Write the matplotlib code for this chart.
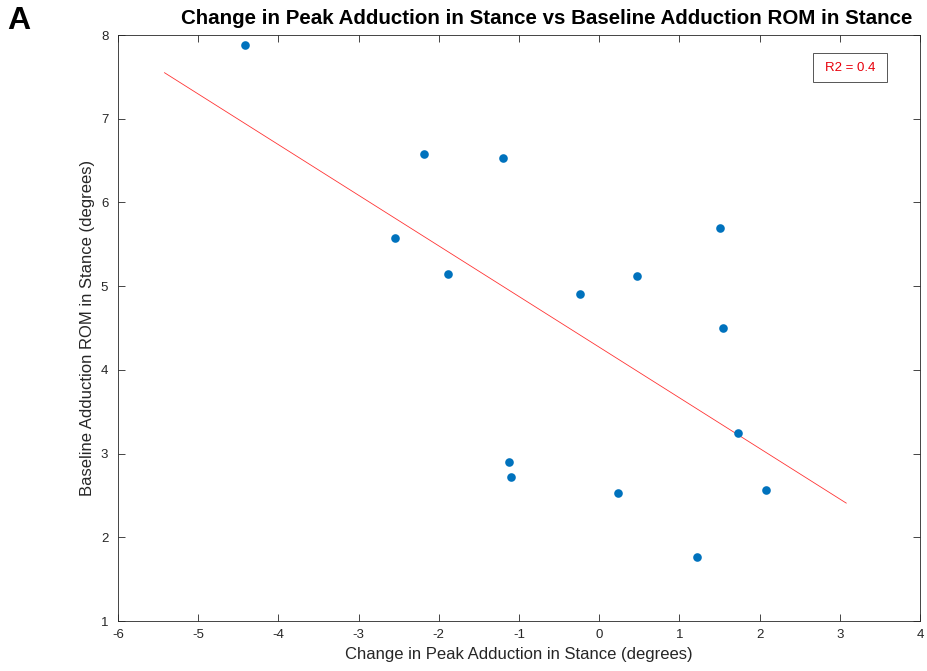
import numpy as np
import matplotlib
matplotlib.use("Agg")
import matplotlib.pyplot as plt
from matplotlib.patches import Rectangle

plt.rcParams['font.family'] = ['Liberation Sans', 'DejaVu Sans']
plt.rcParams['axes.unicode_minus'] = False

# Change in peak adduction (x) vs baseline adduction ROM (y), degrees
change_peak_add = [-4.42, -2.19, -1.20, -2.55, -1.89, -0.24, 0.47, 1.51,
                   1.54, 1.73, -1.12, -1.10, 0.24, 2.08, 1.22]
baseline_rom = [7.88, 6.58, 6.53, 5.57, 5.15, 4.91, 5.12, 5.69,
                4.50, 3.25, 2.90, 2.72, 2.53, 2.56, 1.76]
r2_label = "R2 = 0.4"
x_ticks = [-6, -5, -4, -3, -2, -1, 0, 1, 2, 3, 4]
y_ticks = [1, 2, 3, 4, 5, 6, 7, 8]

x = np.array(change_peak_add)
y = np.array(baseline_rom)
slope, intercept = np.polyfit(x, y, 1)
xfit = np.array([x.min() - 1, x.max() + 1])
yfit = slope * xfit + intercept

fig = plt.figure(figsize=(9.28, 6.71), dpi=100)
ax = fig.add_axes([118 / 928, 1 - 621 / 671, (920 - 118) / 928, (621 - 35) / 671])

ax.plot(x, y, 'o', color='#0072BD', markersize=6.2, markeredgewidth=0, zorder=3)
ax.plot(xfit, yfit, '-', color='#FF0000', linewidth=0.6, alpha=0.8, zorder=2)

ax.set_xlim(-6, 4)
ax.set_ylim(1, 8)
ax.set_xticks(x_ticks)
ax.set_yticks(y_ticks)
ax.set_xticklabels([str(t) for t in x_ticks])
ax.set_yticklabels([str(t) for t in y_ticks])

axcol = '#262626'
for s in ax.spines.values():
    s.set_color(axcol)
    s.set_linewidth(0.6)
ax.tick_params(direction='in', top=True, right=True, length=5, width=0.6,
               color=axcol, labelcolor=axcol, labelsize=9.5, pad=6)
ax.tick_params(axis='y', pad=7)

ax.set_xlabel("Change in Peak Adduction in Stance (degrees)", fontsize=12,
              color=axcol, labelpad=4)
ax.set_ylabel("Baseline Adduction ROM in Stance (degrees)", fontsize=12,
              color=axcol, labelpad=4)

fig.text(547 / 928, 1 - 19 / 671, "Change in Peak Adduction in Stance vs Baseline Adduction ROM in Stance",
         ha='center', va='center', fontsize=14.8, fontweight='bold', color='black')
fig.text(7 / 928, 1 - 21 / 671, "A", ha='left', va='center', fontsize=23,
         fontweight='bold', color='black')

# annotation box with the fit quality
ax.add_patch(Rectangle((0.8666, 0.9198), 0.0923, 0.0495, transform=ax.transAxes,
                       facecolor='white', edgecolor='#555555', linewidth=0.7, zorder=4))
ax.text(0.9127, 0.9445, r2_label, transform=ax.transAxes, ha='center', va='center',
        fontsize=9.5, color='#E8000B', zorder=5)

fig.savefig("out.png", dpi=100)
